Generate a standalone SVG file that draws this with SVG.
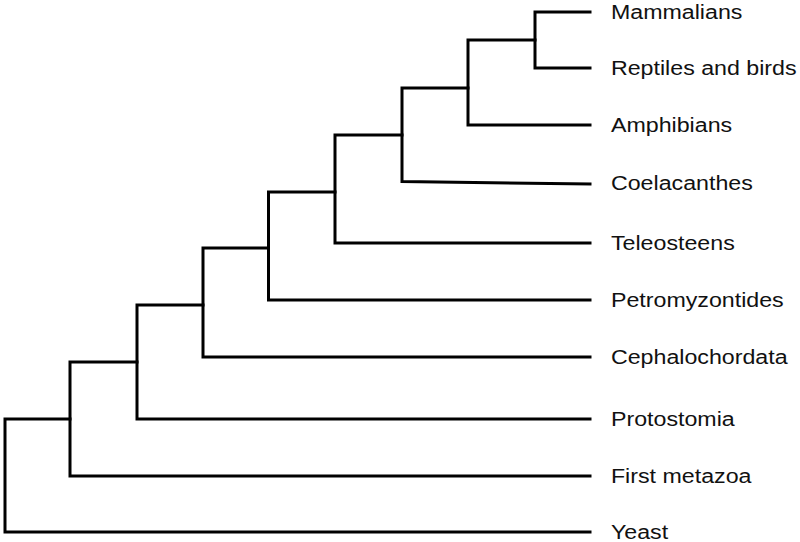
<svg xmlns="http://www.w3.org/2000/svg" width="800" height="542" viewBox="0 0 800 542">
  <style>
    .br { fill: none; stroke: #000; stroke-width: 3; stroke-linecap: square; stroke-linejoin: miter; }
    .lbl { font-family: "Liberation Sans", Arial, sans-serif; font-size: 19.5px; fill: #111; }
  </style>
  <rect width="800" height="542" fill="#fff"/>
  <g id="connectors">
    <path class="br" d="M590,12 H535 V68 H590"/>
    <path class="br" d="M535,40 H468 V125 H590"/>
    <path class="br" d="M468,88 H402 V181.5 L590,184"/>
    <path class="br" d="M402,135 H335 V243 H590"/>
    <path class="br" d="M335,192 H268.5 V300 H590"/>
    <path class="br" d="M268.5,248 H203 V357 H590"/>
    <path class="br" d="M203,305 H137 V419 H590"/>
    <path class="br" d="M137,362 H70 V476 H590"/>
    <path class="br" d="M70,419 H5 V532 H590"/>
  </g>
  <g transform="scale(1.19 1)">
    <g id="mammalians"><text class="lbl" x="513.4" y="19">Mammalians</text></g>
    <g id="reptiles"><text class="lbl" x="513.4" y="75">Reptiles and birds</text></g>
    <g id="amphibians"><text class="lbl" x="513.4" y="132">Amphibians</text></g>
    <g id="coelacanthes"><text class="lbl" x="513.4" y="190.5">Coelacanthes</text></g>
    <g id="teleosteens"><text class="lbl" x="513.4" y="250">Teleosteens</text></g>
    <g id="petromyzontides"><text class="lbl" x="513.4" y="307">Petromyzontides</text></g>
    <g id="cephalochordata"><text class="lbl" x="513.4" y="364">Cephalochordata</text></g>
    <g id="protostomia"><text class="lbl" x="513.4" y="426">Protostomia</text></g>
    <g id="first-metazoa"><text class="lbl" x="513.4" y="483">First metazoa</text></g>
    <g id="yeast"><text class="lbl" x="513.4" y="539">Yeast</text></g>
  </g>
</svg>
